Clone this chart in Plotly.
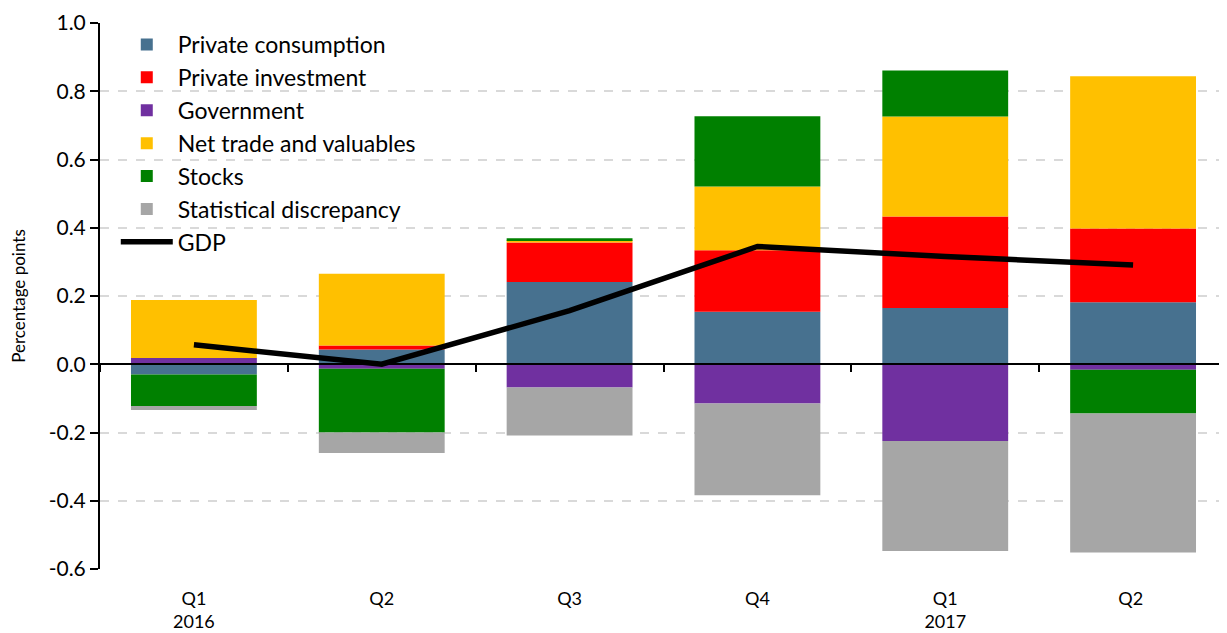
import plotly.graph_objects as go

categories = ["Q1<br>2016", "Q2", "Q3", "Q4", "Q1<br>2017", "Q2 "]
private_consumption = [-0.030, 0.043, 0.241, 0.154, 0.165, 0.182]
private_investment = [0.000, 0.012, 0.116, 0.180, 0.268, 0.216]
government = [0.018, -0.013, -0.068, -0.115, -0.225, -0.016]
net_trade = [0.170, 0.210, 0.007, 0.187, 0.293, 0.446]
stocks = [-0.092, -0.187, 0.005, 0.206, 0.135, -0.128]
stat_discrepancy = [-0.012, -0.060, -0.141, -0.269, -0.322, -0.408]
gdp = [0.057, 0.000, 0.157, 0.345, 0.316, 0.291]
y_ticks = [-0.6, -0.4, -0.2, 0.0, 0.2, 0.4, 0.6, 0.8, 1.0]

series = [
    ("Private consumption", private_consumption, "#47718F"),
    ("Private investment", private_investment, "#FF0000"),
    ("Government", government, "#7030A0"),
    ("Net trade and valuables", net_trade, "#FFC000"),
    ("Stocks", stocks, "#008000"),
    ("Statistical discrepancy", stat_discrepancy, "#A6A6A6"),
]

FONT = "Lato, Open Sans, DejaVu Sans, sans-serif"

fig = go.Figure()
for name, vals, col in series:
    fig.add_trace(go.Bar(x=categories, y=vals, name=name, marker_color=col,
                         marker_line_width=0, width=0.67))
fig.add_trace(go.Scatter(x=categories, y=gdp, name="GDP", mode="lines",
                         line=dict(color="black", width=5.5)))
# invisible trace to carry the zero-line axis with boundary ticks
fig.add_trace(go.Scatter(x=categories, y=[None]*len(categories), xaxis="x2",
                         showlegend=False, hoverinfo="skip", mode="markers",
                         marker=dict(opacity=0)))

# page body has an 8px margin, so the figure is sized to fit inside it
fig.update_layout(
    barmode="relative",
    width=1219, height=625,
    margin=dict(l=92, r=0, t=15, b=64, autoexpand=False),
    plot_bgcolor="white", paper_bgcolor="white",
    font=dict(family=FONT, size=19, color="black"),
    legend=dict(x=0.014, y=1.0, xanchor="left", yanchor="top",
                bgcolor="rgba(0,0,0,0)", font=dict(size=23),
                tracegroupgap=0, itemwidth=52),
    xaxis=dict(showline=False, ticks="outside", ticklen=13,
               tickcolor="rgba(0,0,0,0)", showgrid=False, automargin=False,
               tickfont=dict(size=18), range=[-0.5, 5.5]),
    xaxis2=dict(overlaying="x", anchor="free", position=0.375, matches="x",
                showline=True, linecolor="black", linewidth=2, automargin=False,
                ticks="outside", ticklen=7, tickwidth=2, tickcolor="black",
                tickson="boundaries", showticklabels=False, showgrid=False),
    yaxis=dict(range=[-0.6, 1.0], tickvals=y_ticks,
               ticktext=[f"{v:.1f}".replace("\u2212", "-") for v in y_ticks],
               showline=True, linecolor="black", linewidth=2, automargin=False,
               ticks="outside", ticklen=8, tickwidth=2, tickcolor="black",
               showgrid=True, gridcolor="#D9D9D9", griddash="dash", gridwidth=1.5,
               zeroline=False,
               title=dict(text="Percentage points", font=dict(size=17), standoff=20),
               tickfont=dict(size=21)),
)

fig.write_html("out.html")
